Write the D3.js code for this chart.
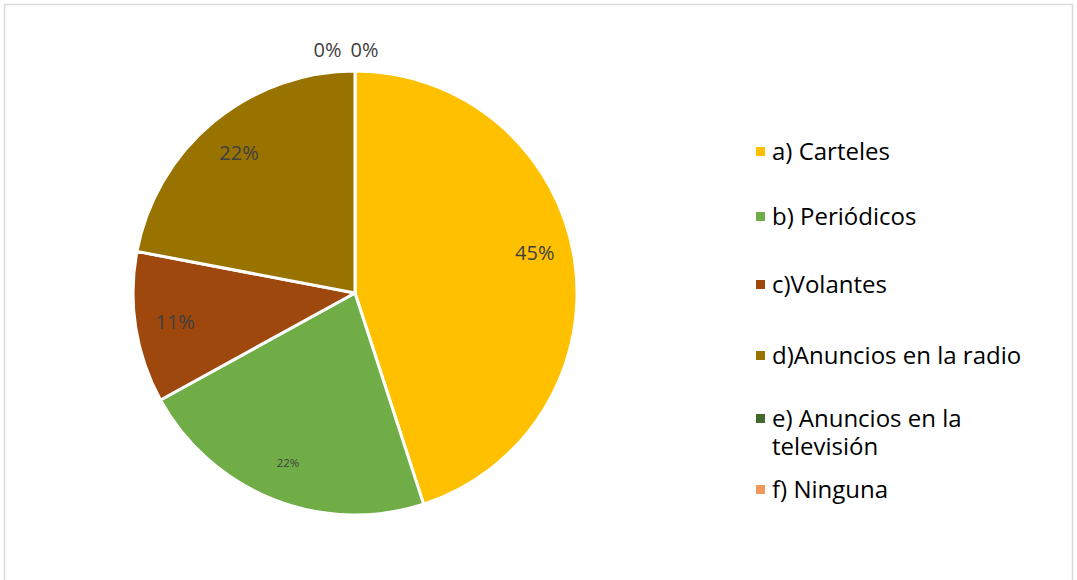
<!DOCTYPE html>
<html>
<head>
<meta charset="utf-8">
<script src="https://cdn.jsdelivr.net/npm/d3@7"></script>
<style>
  html, body { margin: 0; padding: 0; background: #fff; }
  svg { display: block; }
</style>
</head>
<body>
<svg id="chart" width="1077" height="580"></svg>
<script>
// Medios por los que se enteraron (porcentaje)
const categories = [
  "a) Carteles",
  "b) Periódicos",
  "c)Volantes",
  "d)Anuncios en la radio",
  "e) Anuncios en la televisión",
  "f) Ninguna"
];
const values = [45, 22, 11, 22, 0, 0];
const colors = ["#FFC000", "#70AD47", "#9E480E", "#997300", "#43682B", "#F1975A"];
// legend lines (long entries wrap)
const legendLines = [
  ["a) Carteles"],
  ["b) Periódicos"],
  ["c)Volantes"],
  ["d)Anuncios en la radio"],
  ["e) Anuncios en la", "televisión"],
  ["f) Ninguna"]
];

const svg = d3.select("#chart");
const font = "'Open Sans', 'Liberation Sans', sans-serif";

// chart frame
svg.append("rect")
  .attr("x", 4.5).attr("y", 4.5)
  .attr("width", 1068).attr("height", 600)
  .attr("fill", "#fff")
  .attr("stroke", "#D9D9D9").attr("stroke-width", 1.5);

const cx = 355, cy = 293, R = 222;
const data = categories.map((c, i) => ({ name: c, value: values[i], color: colors[i] }));

const pie = d3.pie().sort(null).value(d => d.value);
const arcs = pie(data);
const arc = d3.arc().innerRadius(0).outerRadius(R);
const labelArc = d3.arc().innerRadius(R * 0.82).outerRadius(R * 0.82);

const g = svg.append("g").attr("transform", `translate(${cx},${cy})`);

g.selectAll("path.slice")
  .data(arcs.filter(a => a.data.value > 0))
  .join("path")
  .attr("class", "slice")
  .attr("d", arc)
  .attr("fill", d => d.data.color)
  .attr("stroke", "#fff")
  .attr("stroke-width", 3)
  .attr("stroke-linejoin", "round");

// data labels
const fmt = v => `${Math.round(v)}%`;
const nonZero = arcs.filter(a => a.data.value > 0);
g.selectAll("text.lbl")
  .data(nonZero)
  .join("text")
  .attr("class", "lbl")
  .attr("x", d => labelArc.centroid(d)[0])
  .attr("y", d => labelArc.centroid(d)[1] - (d.index === 0 ? 12 : 0))
  .attr("text-anchor", "middle")
  .attr("dominant-baseline", "central")
  .attr("font-family", font)
  .attr("font-size", d => d.index === 1 ? 11.5 : 20)
  .attr("fill", "#404040")
  .text(d => fmt(d.data.value));

// zero-value slices sit at the top; their labels go just outside the rim
const zeros = arcs.filter(a => a.data.value === 0);
g.selectAll("text.zero")
  .data(zeros)
  .join("text")
  .attr("class", "zero")
  .attr("x", (d, i) => (i - (zeros.length - 1) / 2) * 37 - 9)
  .attr("y", -R - 22)
  .attr("text-anchor", "middle")
  .attr("dominant-baseline", "central")
  .attr("font-family", font)
  .attr("font-size", 20)
  .attr("fill", "#404040")
  .text(d => fmt(d.data.value));

// legend
const legendY = [150, 215, 283, 354, 417, 488];
const lg = svg.append("g");
data.forEach((d, i) => {
  const item = lg.append("g").attr("transform", `translate(756,${legendY[i]})`);
  item.append("rect")
    .attr("x", 0).attr("y", -3)
    .attr("width", 9).attr("height", 9)
    .attr("fill", d.color);
  const t = item.append("text")
    .attr("x", 16).attr("y", 0)
    .attr("dominant-baseline", "central")
    .attr("font-family", font)
    .attr("font-size", 24)
    .attr("fill", "#000");
  legendLines[i].forEach((line, j) => {
    t.append("tspan").attr("x", 16).attr("dy", j === 0 ? 0 : 28).text(line);
  });
});
</script>
</body>
</html>
